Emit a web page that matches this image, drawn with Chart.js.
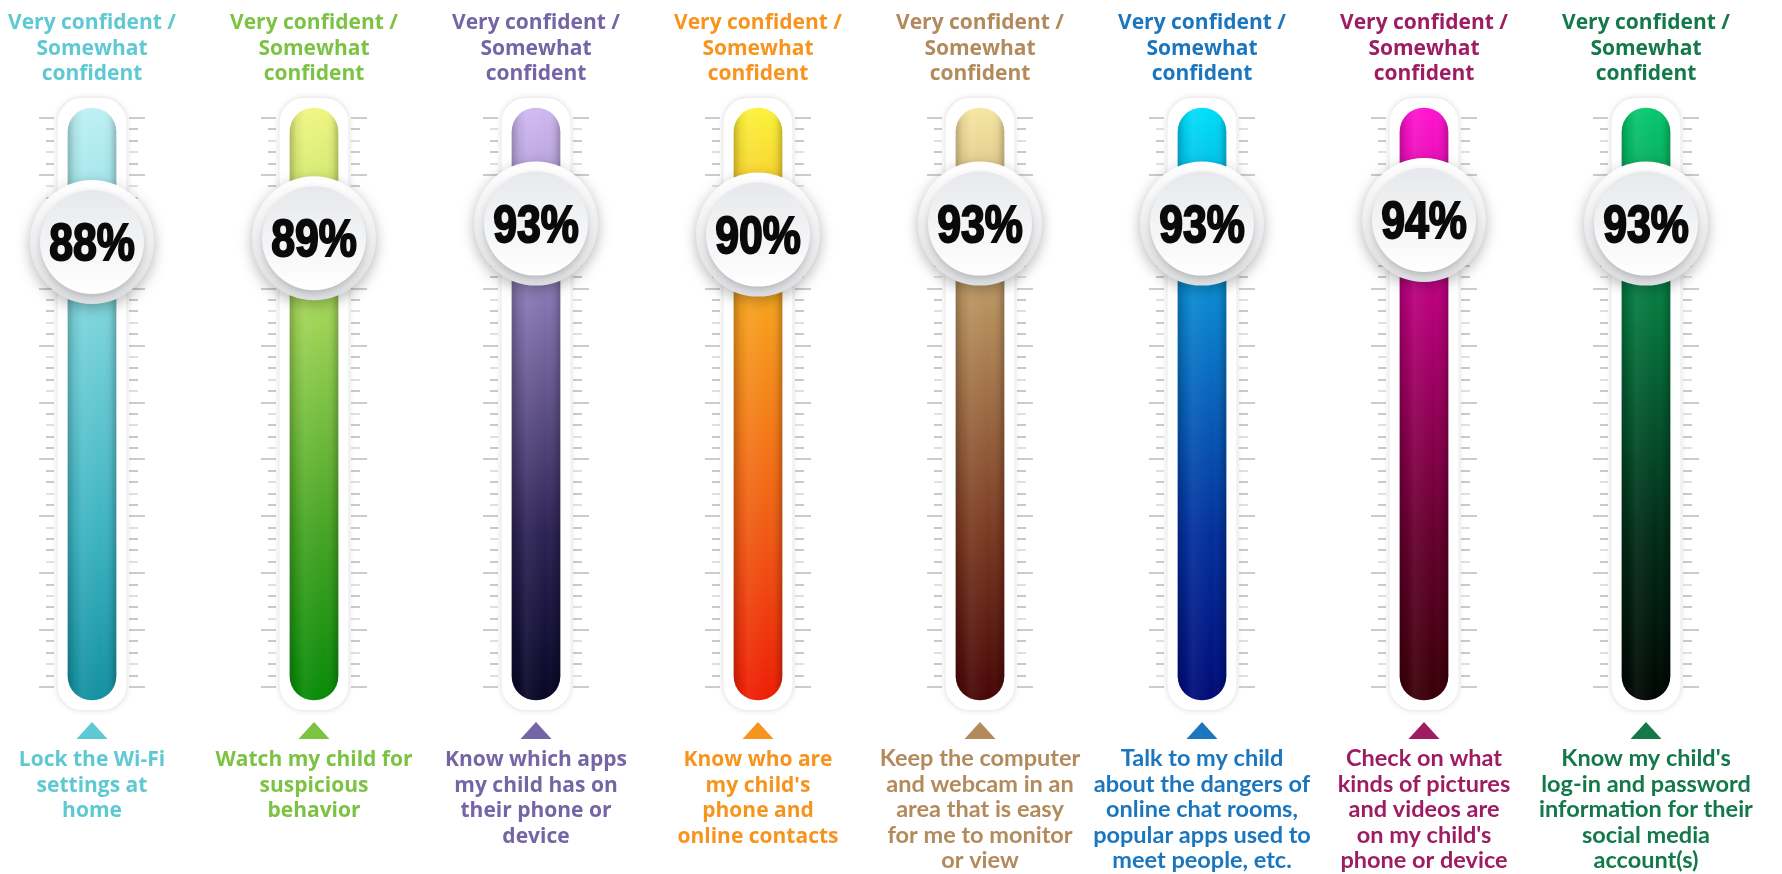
<!DOCTYPE html>
<html>
<head>
<meta charset="utf-8">
<script src="https://cdn.jsdelivr.net/npm/chart.js@4.4.1/dist/chart.umd.min.js"></script>
<style>
html,body{margin:0;padding:0;background:#ffffff;overflow:hidden}
#wrap{width:1782px;height:874px;position:relative}
</style>
</head>
<body>
<div id="wrap"><canvas id="c" width="1782" height="874"></canvas></div>
<script>
// ---------------- DATA ----------------
const categories = [
  ["Lock the Wi-Fi", "settings at", "home"],
  ["Watch my child for", "suspicious", "behavior"],
  ["Know which apps", "my child has on", "their phone or", "device"],
  ["Know who are", "my child's", "phone and", "online contacts"],
  ["Keep the computer", "and webcam in an", "area that is easy", "for me to monitor", "or view"],
  ["Talk to my child", "about the dangers of", "online chat rooms,", "popular apps used to", "meet people, etc."],
  ["Check on what", "kinds of pictures", "and videos are", "on my child's", "phone or device"],
  ["Know my child's", "log-in and password", "information for their", "social media", "account(s)"]
];
const measureLabel = ["Very confident /", "Somewhat", "confident"];
const values = [88, 89, 93, 90, 93, 93, 94, 93];
const tubeFull = [100, 100, 100, 100, 100, 100, 100, 100];

// ---------------- STYLES ----------------
const labelColors = ["#5ec9d2", "#7cc243", "#7465a5", "#f7941d", "#b38a5c", "#1b76bd", "#9e1d62", "#13784a"];
const tubeStops = [
  ["#bdf0f4", "#7fd6dd", "#3db3c1", "#1390a1"],
  ["#f0f682", "#a6d75a", "#45a424", "#078a08"],
  ["#cfb9f2", "#8674b0", "#2c2354", "#080626"],
  ["#fbf23a", "#f7a21f", "#f05a14", "#ee1e06"],
  ["#f6e6a2", "#b8925f", "#7a3a22", "#470606"],
  ["#00def9", "#0a86d0", "#04309c", "#000c78"],
  ["#ff14cf", "#b8007a", "#66002e", "#380006"],
  ["#08c86e", "#067a40", "#022c18", "#000602"]
];

const ok = (...n) => n.every(Number.isFinite);

function tubeGradient(c) {
  const chart = c.chart, area = chart.chartArea;
  const i = c.dataIndex;
  if (!area || i === undefined || !ok(area.top, area.bottom) || area.bottom <= area.top) return tubeStops[i || 0][1];
  const s = tubeStops[i];
  const g = chart.ctx.createLinearGradient(0, area.top, 0, area.bottom);
  g.addColorStop(0, s[0]);
  g.addColorStop(0.33, s[1]);
  g.addColorStop(0.72, s[2]);
  g.addColorStop(1, s[3]);
  return g;
}
function shadeGradient(c) {
  const chart = c.chart, xs = chart.scales.x;
  const i = c.dataIndex;
  if (!xs || i === undefined) return "rgba(0,0,0,0)";
  const cx = xs.getPixelForValue(i);
  if (!ok(cx)) return "rgba(0,0,0,0)";
  const g = chart.ctx.createLinearGradient(cx - 24, 0, cx + 24, 0);
  g.addColorStop(0, "rgba(0,0,0,0.22)");
  g.addColorStop(0.14, "rgba(0,0,0,0.05)");
  g.addColorStop(0.3, "rgba(255,255,255,0.06)");
  g.addColorStop(0.7, "rgba(255,255,255,0.0)");
  g.addColorStop(0.88, "rgba(0,0,0,0.05)");
  g.addColorStop(1, "rgba(0,0,0,0.22)");
  return g;
}
function discGradient(c, r, top, bottom) {
  const chart = c.chart, ys = chart.scales.y2;
  const i = c.dataIndex;
  if (!ys || i === undefined) return "#f4f4f4";
  const cy = ys.getPixelForValue(values[i]);
  if (!ok(cy)) return "#f4f4f4";
  const g = chart.ctx.createLinearGradient(0, cy - r, 0, cy + r);
  g.addColorStop(0, top);
  g.addColorStop(1, bottom);
  return g;
}

const xy = (arr) => arr.map((v, i) => ({x: i, y: v}));

// ---------------- PLUGINS ----------------
const shadowPlugin = {
  id: "shadowPlugin",
  beforeDatasetDraw(chart, args) {
    const ds = chart.data.datasets[args.index];
    const ctx = chart.ctx;
    ctx.save();
    if (ds.shadowStyle) {
      ctx.shadowColor = ds.shadowStyle.color;
      ctx.shadowBlur = ds.shadowStyle.blur;
      ctx.shadowOffsetY = ds.shadowStyle.dy || 0;
    }
  },
  afterDatasetDraw(chart) {
    chart.ctx.restore();
  }
};

const scaleMarks = {
  id: "scaleMarks",
  beforeDatasetsDraw(chart) {
    const ctx = chart.ctx, area = chart.chartArea, xs = chart.scales.x;
    const yTop = area.top + 10, yBot = area.bottom - 13, n = 50;
    ctx.save();
    categories.forEach((_, i) => {
      const cx = xs.getPixelForValue(i);
      for (let k = 0; k <= n; k++) {
        const y = Math.round(yTop + (yBot - yTop) * k / n) - 1;
        const isLong = k % 5 === 0;
        ctx.fillStyle = isLong ? "rgba(0,0,0,0.20)" : ((k + i) % 3 === 0 ? "rgba(0,0,0,0.12)" : "rgba(0,0,0,0.21)");
        if (isLong) {
          ctx.fillRect(cx - 53, y, 15, 2);
          ctx.fillRect(cx + 37, y, 16, 2);
        } else {
          ctx.fillRect(cx - 46, y, 8, 2);
          ctx.fillRect(cx + 37, y, 9, 2);
        }
      }
    });
    ctx.restore();
  }
};

const textPlugin = {
  id: "textPlugin",
  afterDatasetsDraw(chart) {
    const ctx = chart.ctx, xs = chart.scales.x, ys2 = chart.scales.y2, area = chart.chartArea;
    ctx.save();
    values.forEach((v, i) => {
      const cx = xs.getPixelForValue(i), cy = ys2.getPixelForValue(v);
      ctx.save();
      ctx.translate(cx, cy + 18);
      ctx.scale(0.84, 1);
      ctx.font = "bold 51px 'Liberation Sans', Arial, sans-serif";
      ctx.textAlign = "center";
      ctx.textBaseline = "alphabetic";
      ctx.fillStyle = "#0a0a0a";
      ctx.strokeStyle = "#0a0a0a";
      ctx.lineWidth = 2;
      ctx.fillText(v + "%", 0, 0);
      ctx.strokeText(v + "%", 0, 0);
      ctx.restore();
    });
    categories.forEach((_, i) => {
      const cx = xs.getPixelForValue(i);
      ctx.fillStyle = labelColors[i];
      ctx.textAlign = "center";
      ctx.textBaseline = "alphabetic";
      ctx.font = "bold 21px 'Open Sans', sans-serif";
      measureLabel.forEach((line, k) => ctx.fillText(line, cx, 29 + k * 25.5));
    });
    categories.forEach((lines, i) => {
      const cx = xs.getPixelForValue(i);
      const base = area.bottom + 39;
      ctx.fillStyle = labelColors[i];
      ctx.beginPath();
      ctx.moveTo(cx - 15.5, base);
      ctx.lineTo(cx + 15.5, base);
      ctx.lineTo(cx, base - 17);
      ctx.closePath();
      ctx.fill();
      ctx.textAlign = "center";
      ctx.font = i < 4 ? "bold 21px 'Open Sans', sans-serif" : "bold 23.5px Lato, sans-serif";
      lines.forEach((line, k) => ctx.fillText(line, cx, area.bottom + 66 + k * 25.6));
    });
    ctx.restore();
  }
};

// ---------------- CHART ----------------
const Y2_MIN = -36.8, Y2_MAX = 124.5;

new Chart(document.getElementById("c"), {
  type: "bar",
  data: {
    datasets: [
      {
        label: "Outer disc",
        type: "scatter",
        data: xy(values),
        yAxisID: "y2",
        order: 2,
        clip: false,
        pointRadius: 62,
        pointHoverRadius: 62,
        pointBorderWidth: 0,
        pointBackgroundColor: (c) => discGradient(c, 62, "#ffffff", "#dcdde0"),
        shadowStyle: {color: "rgba(0,0,0,0.28)", blur: 14, dy: 4}
      },
      {
        label: "Inner disc",
        type: "scatter",
        data: xy(values),
        yAxisID: "y2",
        order: 1,
        clip: false,
        pointRadius: 52,
        pointHoverRadius: 52,
        pointBorderWidth: 0,
        pointBackgroundColor: (c) => discGradient(c, 52, "#e6e8eb", "#ffffff"),
        shadowStyle: {color: "rgba(0,0,0,0.18)", blur: 6, dy: 3}
      },
      {
        label: "Tube shade",
        data: xy(tubeFull),
        order: 3,
        clip: false,
        barThickness: 48,
        borderRadius: 24,
        borderSkipped: false,
        backgroundColor: shadeGradient
      },
      {
        label: "Tube",
        data: xy(tubeFull),
        order: 4,
        clip: false,
        barThickness: 48,
        borderRadius: 24,
        borderSkipped: false,
        backgroundColor: tubeGradient
      },
      {
        label: "Casing",
        data: xy(tubeFull),
        order: 5,
        clip: false,
        barThickness: 49,
        inflateAmount: 10,
        borderRadius: 25,
        borderSkipped: false,
        backgroundColor: "#ffffff",
        shadowStyle: {color: "rgba(0,0,0,0.16)", blur: 6, dy: 0}
      }
    ]
  },
  options: {
    responsive: false,
    animation: false,
    devicePixelRatio: 1,
    layout: {padding: {top: 108, bottom: 174, left: 92, right: 136}, autoPadding: false},
    datasets: {bar: {grouped: false}},
    plugins: {legend: {display: false}, tooltip: {enabled: false}, title: {display: false}},
    events: [],
    scales: {
      x: {type: "linear", min: 0, max: 7, offset: false, display: false},
      y: {min: 0, max: 100, display: false},
      y2: {min: Y2_MIN, max: Y2_MAX, display: false}
    }
  },
  plugins: [shadowPlugin, scaleMarks, textPlugin]
});
</script>
</body>
</html>
